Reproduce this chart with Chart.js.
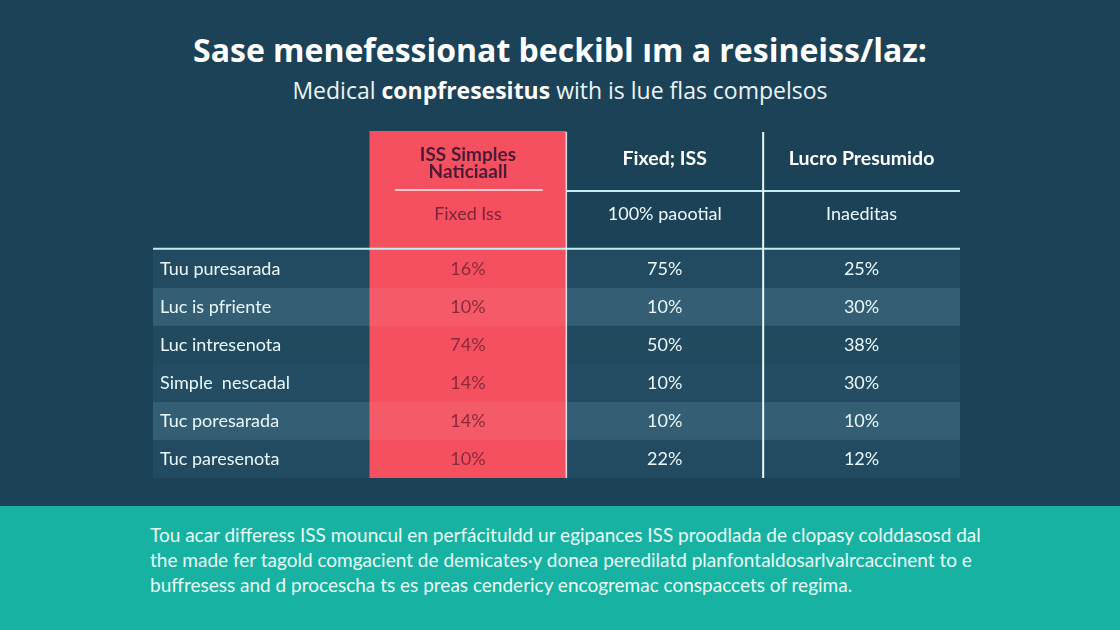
<!DOCTYPE html>
<html>
<head>
<meta charset="utf-8">
<script src="https://cdn.jsdelivr.net/npm/chart.js@4.4.1/dist/chart.umd.min.js"></script>
<style>
  html, body { margin: 0; padding: 0; }
  body {
    width: 1120px; height: 630px; overflow: hidden; position: relative;
    background: #1c4258; font-family: "Open Sans", sans-serif;
  }
  #title {
    position: absolute; left: 0; top: 29px; width: 1120px; margin: 0;
    text-align: center; color: #ffffff; font-weight: 700; font-size: 32px; line-height: 42px;
  }
  #subtitle {
    position: absolute; left: 0; top: 75px; width: 1120px;
    text-align: center; color: #eaf5f7; font-size: 23px; line-height: 30px;
  }
  #subtitle b { font-weight: 700; color: #ffffff; }
  #band {
    position: absolute; left: 0; top: 506px; width: 1120px; height: 124px; background: #17b2a1;
  }
  #note {
    position: absolute; left: 150px; top: 16px; color: #e8fbf7;
    font-family: Lato, sans-serif; font-size: 19px; line-height: 25px; white-space: nowrap;
  }
  #chart { position: absolute; left: 0; top: 0; }
</style>
</head>
<body>
<h1 id="title">Sase menefessionat beckibl ım a resineiss/laz:</h1>
<div id="subtitle">Medical <b>conpfresesitus</b> with is lue flas compelsos</div>
<canvas id="chart" width="1120" height="630"></canvas>
<div id="band">
  <div id="note">
    <div>Tou acar differess ISS mouncul en perfácituldd ur egipances ISS proodlada de clopasy colddasosd dal</div>
    <div>the made fer tagold comgacient de demicates·y donea peredilatd planfontaldosarlvalrcaccinent to e</div>
    <div>buffresess and d procescha ts es preas cendericy encogremac conspaccets of regima.</div>
  </div>
</div>

<script>
// ==================== 資料 ====================
const columnHeaders = [['ISS Simples', 'Naticiaall'], ['Fixed; ISS'], ['Lucro Presumido']];
const subHeaders = ['Fixed Iss', '100% paootial', 'Inaeditas'];
const rowLabels = ['Tuu puresarada', 'Luc is pfriente', 'Luc intresenota', 'Simple  nescadal', 'Tuc poresarada', 'Tuc paresenota'];
const simplesValues = [16, 10, 74, 14, 14, 10];
const fixedIssValues = [75, 10, 50, 10, 10, 22];
const lucroValues = [25, 30, 38, 30, 10, 12];
const seriesValues = [simplesValues, fixedIssValues, lucroValues];

// 表格在座標軸上的格局（單位 = 欄 / 列）
const colLeft = [0, 1.1, 2.1, 3.1];
const colRight = 4.1;
const headerSplit = 1.55;
const headerBottom = 3.1;
const rowShades = ['#224b61', '#335e73', '#214a5f', '#244d63', '#335e73', '#224b61'];

// ==================== 表格繪製 plugin ====================
const tablePlugin = {
  id: 'tablePlugin',
  beforeDatasetsDraw(chart) {
    const { ctx, scales: { x, y } } = chart;
    const px = v => x.getPixelForValue(v);
    const py = v => y.getPixelForValue(v);
    const top = py(0), bottom = py(headerBottom + rowLabels.length);

    ctx.save();

    // 資料列底色
    rowLabels.forEach((_, i) => {
      ctx.fillStyle = rowShades[i];
      ctx.fillRect(px(0), py(headerBottom + i), px(colRight) - px(0), py(headerBottom + i + 1) - py(headerBottom + i));
    });

    // 紅色重點欄
    ctx.fillStyle = '#f5505f';
    ctx.fillRect(px(colLeft[1]), top - 1, px(colLeft[2]) - px(colLeft[1]), bottom - top + 1);
    rowLabels.forEach((_, i) => {
      if (rowShades[i] === '#335e73') {
        ctx.fillStyle = 'rgba(255,255,255,0.06)';
        ctx.fillRect(px(colLeft[1]), py(headerBottom + i), px(colLeft[2]) - px(colLeft[1]), py(headerBottom + i + 1) - py(headerBottom + i));
      }
    });

    // 格線
    ctx.strokeStyle = '#bfeef4';
    ctx.lineWidth = 2;
    ctx.beginPath();
    ctx.moveTo(px(colLeft[2]), py(headerSplit));
    ctx.lineTo(px(colRight), py(headerSplit));
    ctx.moveTo(px(0), py(headerBottom) - 1);
    ctx.lineTo(px(colRight), py(headerBottom) - 1);
    ctx.stroke();

    ctx.strokeStyle = '#eaf8fa';
    ctx.lineWidth = 2;
    ctx.beginPath();
    ctx.moveTo(px(colLeft[3]), top);
    ctx.lineTo(px(colLeft[3]), bottom);
    ctx.stroke();

    ctx.strokeStyle = 'rgba(235,245,250,0.85)';
    ctx.lineWidth = 1.5;
    ctx.beginPath();
    ctx.moveTo(px(colLeft[2]), top);
    ctx.lineTo(px(colLeft[2]), bottom);
    ctx.stroke();

    ctx.strokeStyle = '#ffc6cc';
    ctx.lineWidth = 2;
    ctx.beginPath();
    ctx.moveTo(px(colLeft[1] + 0.13), py(headerSplit) - 1);
    ctx.lineTo(px(colLeft[2] - 0.12), py(headerSplit) - 1);
    ctx.stroke();

    // 表頭文字
    ctx.textAlign = 'center';
    ctx.textBaseline = 'middle';
    columnHeaders.forEach((lines, j) => {
      const cx = px(colLeft[j + 1] + 0.5);
      ctx.fillStyle = j === 0 ? '#4a1b36' : '#ffffff';
      ctx.font = j === 0 ? 'bold 19px Lato' : 'bold 19.5px Lato';
      if (lines.length === 1) {
        ctx.fillText(lines[0], cx, py(0.69));
      } else {
        ctx.fillText(lines[0], cx, py(0.6));
        ctx.fillText(lines[1], cx, py(1.06));
      }
    });
    subHeaders.forEach((label, j) => {
      ctx.fillStyle = j === 0 ? '#7c2537' : '#eef9fb';
      ctx.font = '18px Lato';
      ctx.fillText(label, px(colLeft[j + 1] + 0.5), py(2.16));
    });

    // 列標籤與數值
    rowLabels.forEach((label, i) => {
      const cy = py(headerBottom + i + 0.5);
      ctx.textAlign = 'left';
      ctx.fillStyle = '#eaf8fa';
      ctx.font = '18px Lato';
      ctx.fillText(label, px(0) + 7, cy);
      ctx.textAlign = 'center';
      seriesValues.forEach((vals, j) => {
        ctx.fillStyle = j === 0 ? '#8a2a3c' : '#eaf8fa';
        ctx.fillText(vals[i] + '%', px(colLeft[j + 1] + 0.5), cy);
      });
    });

    ctx.restore();
  }
};

new Chart(document.getElementById('chart'), {
  type: 'scatter',
  data: { datasets: [] },
  options: {
    responsive: false,
    animation: false,
    events: [],
    layout: { padding: { left: 153, right: 160, top: 132, bottom: 152 } },
    scales: {
      x: { type: 'linear', min: 0, max: colRight, display: false },
      y: { type: 'linear', min: 0, max: headerBottom + rowLabels.length, reverse: true, display: false }
    },
    plugins: { legend: { display: false }, tooltip: { enabled: false } }
  },
  plugins: [tablePlugin]
});
</script>
</body>
</html>
